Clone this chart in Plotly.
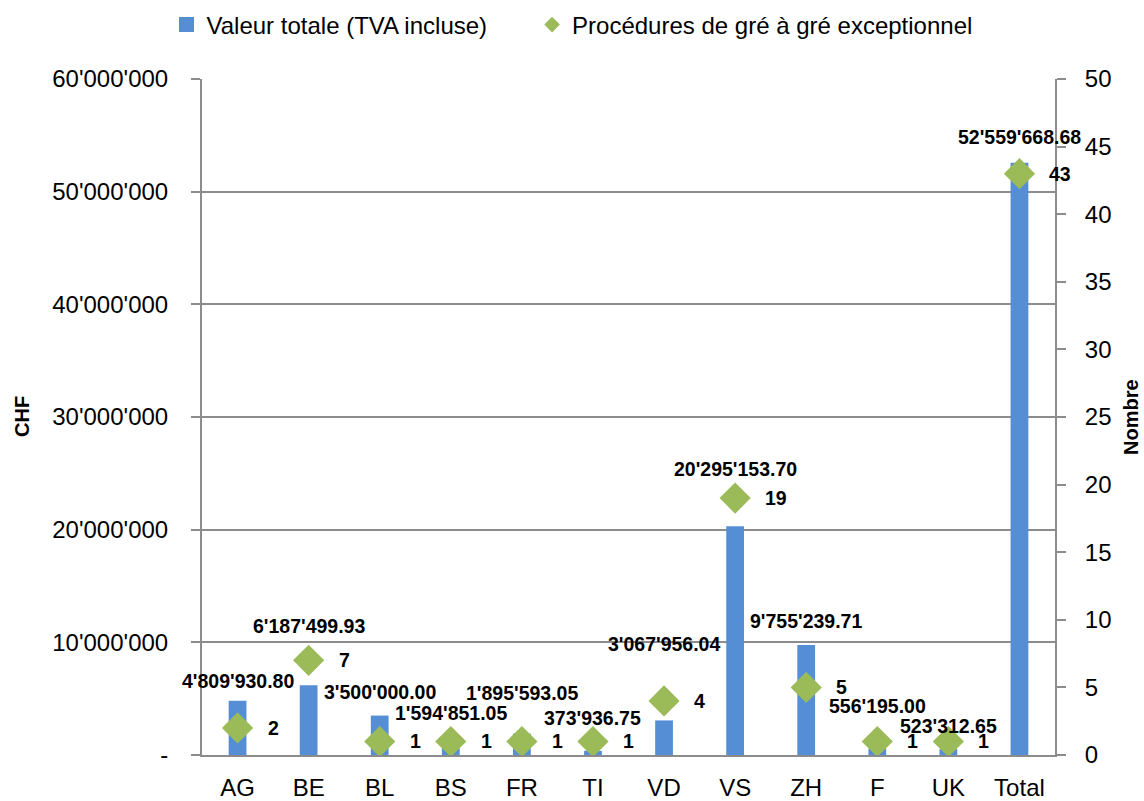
import plotly.graph_objects as go

categories = ["AG", "BE", "BL", "BS", "FR", "TI", "VD", "VS", "ZH", "F", "UK", "Total"]
valeur_totale = [4809930.80, 6187499.93, 3500000.00, 1594851.05, 1895593.05, 373936.75,
                 3067956.04, 20295153.70, 9755239.71, 556195.00, 523312.65, 52559668.68]
procedures = [2, 7, 1, 1, 1, 1, 4, 19, 5, 1, 1, 43]

left_tickvals = [0, 10000000, 20000000, 30000000, 40000000, 50000000, 60000000]
left_ticktext = ["-", "10'000'000", "20'000'000", "30'000'000", "40'000'000", "50'000'000", "60'000'000"]
right_tickvals = [0, 5, 10, 15, 20, 25, 30, 35, 40, 45, 50]

series_names = ["Valeur totale (TVA incluse)", "Procédures de gré à gré exceptionnel"]

# label vertical offsets (pixels above bar top) to mimic the manual placement
label_yshift = [20, 59, 24, 24, 41, 33, 76, 57, 24, 43, 23, 26]

FONT = "Liberation Sans"
BLUE = "#558ED5"
GREEN = "#9BBB59"
GRID = "#8C8C8C"

ML, MR, MT, MB = 202, 89, 79, 46
W, H = 1144, 801
PW = W - ML - MR


def fmt(v):
    return f"{v:,.2f}".replace(",", "'")


fig = go.Figure()
fig.add_trace(go.Bar(
    x=categories, y=valeur_totale, name=series_names[0], showlegend=False,
    marker=dict(color=BLUE, line=dict(width=0)), width=0.25, yaxis="y",
))
fig.add_trace(go.Scatter(
    x=categories, y=procedures, name=series_names[1], showlegend=False,
    mode="markers", marker=dict(symbol="diamond", size=24, color=GREEN, line=dict(width=0)),
    yaxis="y2",
))
# legend entries (small symbols like the original legend)
fig.add_trace(go.Scatter(
    x=[None], y=[None], name=series_names[0] + "\u00a0" * 6, mode="markers",
    marker=dict(symbol="square", size=15, color=BLUE, line=dict(width=0)),
))
fig.add_trace(go.Scatter(
    x=[None], y=[None], name=series_names[1], mode="markers",
    marker=dict(symbol="diamond", size=12, color=GREEN, line=dict(width=0)),
))

annotations = []
for c, v, s in zip(categories, valeur_totale, label_yshift):
    annotations.append(dict(
        x=c, y=v, xref="x", yref="y", text=f"<b>{fmt(v)}</b>", showarrow=False,
        yshift=s, yanchor="middle", xanchor="center",
        font=dict(family=FONT, size=19.5, color="black"),
    ))
for c, n in zip(categories, procedures):
    annotations.append(dict(
        x=c, y=n, xref="x", yref="y2", text=f"<b>{n}</b>", showarrow=False,
        xshift=28, yanchor="middle", xanchor="left",
        font=dict(family=FONT, size=19.5, color="black"),
    ))
# axis titles
annotations.append(dict(
    x=(22 - ML) / PW, y=0.5, xref="paper", yref="paper", text="<b>CHF</b>",
    showarrow=False, textangle=-90, xanchor="center", yanchor="middle",
    font=dict(family=FONT, size=20, color="black"),
))
annotations.append(dict(
    x=(1131 - ML) / PW, y=0.5, xref="paper", yref="paper", text="<b>Nombre</b>",
    showarrow=False, textangle=-90, xanchor="center", yanchor="middle",
    font=dict(family=FONT, size=20, color="black"),
))

fig.update_layout(
    width=W, height=H,
    margin=dict(l=ML, r=MR, t=MT, b=MB, autoexpand=False),
    paper_bgcolor="white", plot_bgcolor="white",
    font=dict(family=FONT, size=24, color="black"),
    showlegend=True,
    legend=dict(
        orientation="h", x=0.5, xanchor="center", xref="container",
        y=1 - 25 / 801, yanchor="middle", yref="container",
        font=dict(family=FONT, size=24), itemwidth=30, traceorder="normal",
    ),
    xaxis=dict(
        type="category", categoryorder="array", categoryarray=categories,
        range=[-0.5, len(categories) - 0.5],
        showline=True, linecolor=GRID, linewidth=2, ticks="", automargin=False,
        showgrid=False, tickfont=dict(family=FONT, size=24), ticklabelstandoff=10,
    ),
    yaxis=dict(
        range=[0, 60000000], tickvals=left_tickvals, ticktext=left_ticktext, automargin=False,
        showline=True, linecolor=GRID, linewidth=2, ticks="outside", ticklen=9, tickwidth=2,
        tickcolor=GRID, showgrid=True, gridcolor=GRID, gridwidth=1.5, zeroline=False,
        tickfont=dict(family=FONT, size=24), ticklabelstandoff=18,
    ),
    yaxis2=dict(
        range=[0, 50], tickvals=right_tickvals, overlaying="y", side="right", automargin=False,
        showline=True, linecolor=GRID, linewidth=2, ticks="outside", ticklen=9, tickwidth=2,
        tickcolor=GRID, showgrid=False, zeroline=False,
        tickfont=dict(family=FONT, size=24), ticklabelstandoff=14,
    ),
    annotations=annotations,
)

fig.write_html(
    "out.html",
    config={"displayModeBar": False},
    post_script="document.body.style.margin='0px';document.body.style.padding='0px';",
)
